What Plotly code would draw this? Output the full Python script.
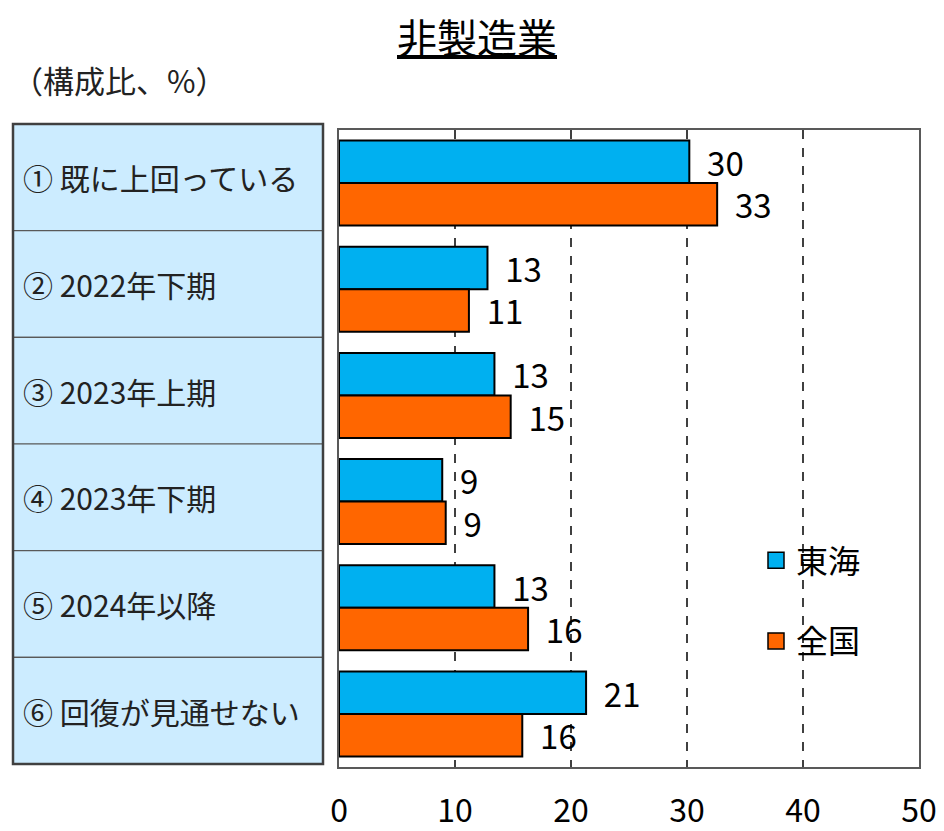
import plotly.graph_objects as go

categories = ["① 既に上回っている", "② 2022年下期", "③ 2023年上期",
              "④ 2023年下期", "⑤ 2024年以降", "⑥ 回復が見通せない"]
tokai = [30.2, 12.8, 13.4, 8.9, 13.4, 21.3]
zenkoku = [32.6, 11.2, 14.8, 9.2, 16.3, 15.8]
series_names = ["東海", "全国"]
colors = ["#00B0F0", "#FF6600"]
x_ticks = [0, 10, 20, 30, 40, 50]

FONT = "Noto Sans CJK JP"
OFF = 8  # page body margin
W, H = 944 - OFF, 831 - OFF
ml, mr, mt, mb = 339 - OFF, 25, 130 - OFF, 64
plot_w = W - ml - mr
plot_h = H - mt - mb

def px_x(p):  # page pixel -> paper x
    return (p - OFF - ml) / plot_w
def px_y(p):  # page pixel -> paper y
    return (H - mb - (p - OFF)) / plot_h

fig = go.Figure()
for name, vals, col in zip(series_names, [tokai, zenkoku], colors):
    fig.add_trace(go.Bar(
        y=categories, x=vals, orientation="h", name=name,
        marker=dict(color=col, line=dict(color="black", width=2)),
        texttemplate="  %{x:.0f}", textposition="outside",
        textfont=dict(family=FONT, size=33, color="black"),
        constraintext="none",
        cliponaxis=False, showlegend=False,
    ))
for i, (name, col) in enumerate(zip(series_names, colors)):
    fig.add_trace(go.Scatter(
        x=[None], y=[None], mode="markers", name=name,
        marker=dict(symbol="square", size=20, color=col,
                    line=dict(color="black", width=1.5)),
        legendgroup=f"g{i}",
    ))

top_px, bot_px = 124, 764
row_h = (bot_px - top_px) / len(categories)
shapes = []
annotations = []
for i, cat in enumerate(categories):
    y_top = top_px + i * row_h
    y_bot = y_top + row_h
    shapes.append(dict(type="rect", xref="paper", yref="paper",
                       x0=px_x(13), x1=px_x(323),
                       y0=px_y(y_bot), y1=px_y(y_top),
                       fillcolor="#CCECFF", line=dict(color="#595959", width=1.2),
                       layer="below"))
    annotations.append(dict(xref="paper", yref="paper",
                            x=px_x(21), y=px_y((y_top + y_bot) / 2),
                            text=cat, showarrow=False, xanchor="left", yanchor="middle",
                            font=dict(family=FONT, size=30, color="#222222")))
shapes.append(dict(type="rect", xref="paper", yref="paper",
                   x0=px_x(13), x1=px_x(323),
                   y0=px_y(bot_px), y1=px_y(top_px),
                   line=dict(color="#404040", width=2.5)))

annotations.append(dict(xref="paper", yref="paper", x=px_x(477), y=px_y(36),
                        text="<u>非製造業</u>", showarrow=False,
                        xanchor="center", yanchor="middle",
                        font=dict(family=FONT, size=40, color="black")))
annotations.append(dict(xref="paper", yref="paper", x=px_x(10), y=px_y(80),
                        text="（構成比、%）", showarrow=False,
                        xanchor="left", yanchor="middle",
                        font=dict(family=FONT, size=31, color="#222222")))

fig.update_layout(
    width=W, height=H,
    margin=dict(l=ml, r=mr, t=mt, b=mb, autoexpand=False),
    plot_bgcolor="white", paper_bgcolor="white",
    barmode="group", bargap=0.2, bargroupgap=0,
    font=dict(family=FONT, color="black"),
    shapes=shapes, annotations=annotations,
    legend=dict(x=px_x(756), y=px_y(533), xanchor="left", yanchor="top",
                font=dict(family=FONT, size=32, color="black"),
                bgcolor="rgba(0,0,0,0)", tracegroupgap=36,
                traceorder="grouped", itemwidth=30),
    showlegend=True,
)
fig.update_xaxes(range=[0, 50], tickvals=x_ticks, showgrid=True,
                 gridcolor="#404040", griddash="dash", gridwidth=1.5,
                 showline=True, linecolor="#595959", linewidth=2, mirror=True,
                 ticks="outside", ticklen=15, tickcolor="rgba(0,0,0,0)",
                 tickfont=dict(family=FONT, size=32, color="black"),
                 zeroline=False, fixedrange=True)
fig.update_yaxes(autorange="reversed", showticklabels=False, showgrid=False,
                 showline=True, linecolor="#595959", linewidth=2, mirror=True,
                 ticks="", fixedrange=True)

fig.write_html("out.html")
